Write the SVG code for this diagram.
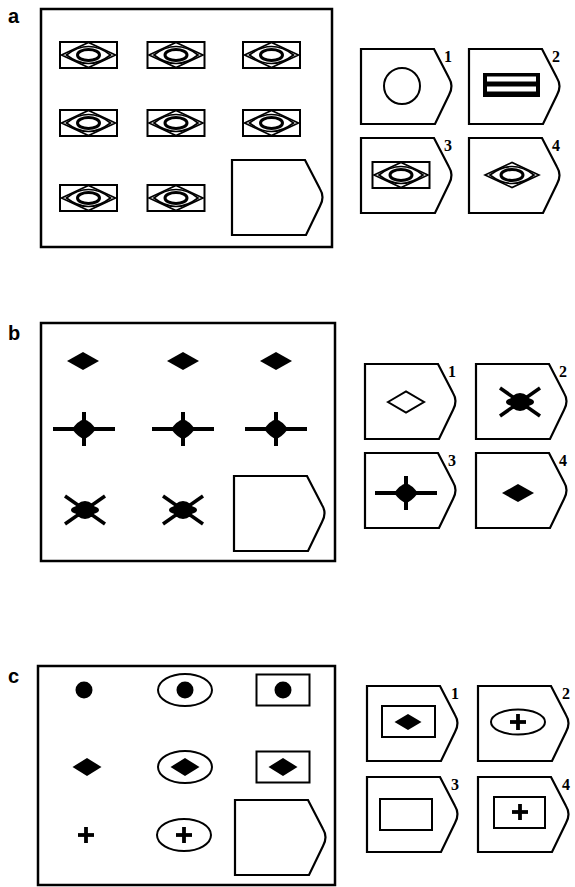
<svg xmlns="http://www.w3.org/2000/svg" xmlns:xlink="http://www.w3.org/1999/xlink" width="575" height="887" viewBox="0 0 575 887">
<style>
.panel{fill:none;stroke:#000;stroke-width:2.5}
.tag{fill:#fff;stroke:#000;stroke-width:2.2}
.ol{fill:none;stroke:#000;stroke-width:2}
.thin{fill:none;stroke:#000;stroke-width:1.6}
.blk{fill:#000;stroke:none}
.ln{stroke:#000;stroke-linecap:butt;fill:none}
.lab{font-family:"Liberation Sans",Arial,sans-serif;font-weight:bold;font-size:20px;fill:#000}
.num{font-family:"Liberation Serif","Times New Roman",serif;font-weight:bold;font-size:16px;fill:#000}
</style>
<defs>
<path id="tag" d="M0,0 H73 L88,29 Q93,37 88,46 L74,75 H0 Z"/>
<g id="eyeD">
<polygon class="thin" points="-27,0 0,-12.5 27,0 0,12.5"/>
<path class="thin" d="M-22,0 Q0,-17 22,0 Q0,17 -22,0 Z"/>
<ellipse class="ln" cx="0" cy="0" rx="11" ry="5.5" stroke-width="3"/>
</g>
<g id="eyeR">
<rect class="ol" x="-28.5" y="-13" width="57" height="26" stroke-width="2.3"/>
<use xlink:href="#eyeD"/>
</g>
<polygon id="dia" class="blk" points="-16,0 0,-9 16,0 0,9"/>
<g id="cross">
<line class="ln" x1="-31" y1="0" x2="31" y2="0" stroke-width="4"/>
<line class="ln" x1="0" y1="-17" x2="0" y2="17" stroke-width="4"/>
<path class="blk" d="M-12,0 Q-6,-8 0,-10 Q6,-8 12,0 Q6,8 0,10 Q-6,8 -12,0 Z"/>
</g>
<g id="xs">
<line class="ln" x1="-20" y1="-14" x2="20" y2="14" stroke-width="3.5"/>
<line class="ln" x1="-20" y1="14" x2="20" y2="-14" stroke-width="3.5"/>
<ellipse class="blk" cx="0" cy="0" rx="10" ry="9"/>
<ellipse class="blk" cx="0" cy="0" rx="14" ry="5"/>
</g>
<circle id="dot" class="blk" r="8.5"/>
<polygon id="dia2" class="blk" points="-14.5,0 0,-9 14.5,0 0,9"/>
<g id="plus">
<line class="ln" x1="-8" y1="0" x2="8" y2="0" stroke-width="3.8"/>
<line class="ln" x1="0" y1="-8" x2="0" y2="8" stroke-width="3.8"/>
</g>
<ellipse id="ell" class="ol" rx="27" ry="16" stroke-width="2.5"/>
<rect id="box" class="ol" x="-26.5" y="-15.5" width="53" height="31"/>
</defs>

<!-- Panel a -->
<g id="panel-a">
<text class="lab" x="8" y="23">a</text>
<rect class="panel" x="41" y="9" width="291" height="238"/>
<g id="a-r1c1"><use xlink:href="#eyeR" x="88.5" y="55"/></g>
<g id="a-r1c2"><use xlink:href="#eyeR" x="176" y="55"/></g>
<g id="a-r1c3"><use xlink:href="#eyeR" x="271.5" y="55"/></g>
<g id="a-r2c1"><use xlink:href="#eyeR" x="88.5" y="123"/></g>
<g id="a-r2c2"><use xlink:href="#eyeR" x="176" y="123"/></g>
<g id="a-r2c3"><use xlink:href="#eyeR" x="271.5" y="123"/></g>
<g id="a-r3c1"><use xlink:href="#eyeR" x="88.5" y="198"/></g>
<g id="a-r3c2"><use xlink:href="#eyeR" x="176" y="198"/></g>
<g id="a-slot"><use xlink:href="#tag" class="tag" x="232" y="160"/></g>
</g>
<g id="a-opt1">
<use xlink:href="#tag" class="tag" x="361" y="49"/>
<circle class="ol" cx="402" cy="86" r="18"/>
<text class="num" x="444" y="62">1</text>
</g>
<g id="a-opt2">
<use xlink:href="#tag" class="tag" x="469" y="49"/>
<rect class="blk" x="483" y="73" width="57" height="24"/>
<rect x="487" y="76.5" width="49" height="5" fill="#fff"/>
<rect x="487" y="86.5" width="49" height="5" fill="#fff"/>
<text class="num" x="552" y="62">2</text>
</g>
<g id="a-opt3">
<use xlink:href="#tag" class="tag" x="361" y="138"/>
<use xlink:href="#eyeR" x="401" y="175"/>
<text class="num" x="444" y="151">3</text>
</g>
<g id="a-opt4">
<use xlink:href="#tag" class="tag" x="469" y="138"/>
<use xlink:href="#eyeD" x="512" y="175"/>
<text class="num" x="552" y="151">4</text>
</g>

<!-- Panel b -->
<g id="panel-b">
<text class="lab" x="8" y="340">b</text>
<rect class="panel" x="41" y="323" width="294" height="238"/>
<g id="b-r1c1"><use xlink:href="#dia" x="83" y="361"/></g>
<g id="b-r1c2"><use xlink:href="#dia" x="183" y="361"/></g>
<g id="b-r1c3"><use xlink:href="#dia" x="276" y="361"/></g>
<g id="b-r2c1"><use xlink:href="#cross" x="84" y="429"/></g>
<g id="b-r2c2"><use xlink:href="#cross" x="183" y="429"/></g>
<g id="b-r2c3"><use xlink:href="#cross" x="276" y="429"/></g>
<g id="b-r3c1"><use xlink:href="#xs" x="85" y="510"/></g>
<g id="b-r3c2"><use xlink:href="#xs" x="183" y="510"/></g>
<g id="b-slot"><use xlink:href="#tag" class="tag" x="234" y="476"/></g>
</g>
<g id="b-opt1">
<use xlink:href="#tag" class="tag" x="365" y="364"/>
<polygon class="ol" points="388,402 406,391.5 424,402 406,412.5"/>
<text class="num" x="448" y="377">1</text>
</g>
<g id="b-opt2">
<use xlink:href="#tag" class="tag" x="476" y="364"/>
<use xlink:href="#xs" x="520" y="402"/>
<text class="num" x="559" y="377">2</text>
</g>
<g id="b-opt3">
<use xlink:href="#tag" class="tag" x="365" y="453"/>
<use xlink:href="#cross" x="406" y="493"/>
<text class="num" x="448" y="466">3</text>
</g>
<g id="b-opt4">
<use xlink:href="#tag" class="tag" x="476" y="453"/>
<use xlink:href="#dia" x="518" y="493"/>
<text class="num" x="559" y="466">4</text>
</g>

<!-- Panel c -->
<g id="panel-c">
<text class="lab" x="8" y="683">c</text>
<rect class="panel" x="38" y="666" width="297" height="219"/>
<g id="c-r1c1"><use xlink:href="#dot" x="84" y="690"/></g>
<g id="c-r1c2"><use xlink:href="#ell" x="185" y="690"/><use xlink:href="#dot" x="185" y="690"/></g>
<g id="c-r1c3"><use xlink:href="#box" x="283" y="690"/><use xlink:href="#dot" x="283" y="690"/></g>
<g id="c-r2c1"><use xlink:href="#dia2" x="87" y="767"/></g>
<g id="c-r2c2"><use xlink:href="#ell" x="185" y="767"/><use xlink:href="#dia2" x="185" y="767"/></g>
<g id="c-r2c3"><use xlink:href="#box" x="283" y="767"/><use xlink:href="#dia2" x="283" y="767"/></g>
<g id="c-r3c1"><use xlink:href="#plus" x="86" y="835"/></g>
<g id="c-r3c2"><use xlink:href="#ell" x="184" y="835"/><use xlink:href="#plus" x="184" y="835"/></g>
<g id="c-slot"><use xlink:href="#tag" class="tag" x="235" y="800"/></g>
</g>
<g id="c-opt1">
<use xlink:href="#tag" class="tag" x="367" y="686"/>
<rect class="ol" x="382" y="706" width="53" height="31"/>
<polygon class="blk" points="394.5,722 408,714 421.5,722 408,730"/>
<text class="num" x="451" y="699">1</text>
</g>
<g id="c-opt2">
<use xlink:href="#tag" class="tag" x="478" y="686"/>
<ellipse class="ol" cx="518" cy="722" rx="27" ry="12.5"/>
<use xlink:href="#plus" x="518" y="722"/>
<text class="num" x="562" y="699">2</text>
</g>
<g id="c-opt3">
<use xlink:href="#tag" class="tag" x="367" y="777"/>
<rect class="ol" x="380" y="799" width="52" height="31"/>
<text class="num" x="451" y="790">3</text>
</g>
<g id="c-opt4">
<use xlink:href="#tag" class="tag" x="478" y="777"/>
<rect class="ol" x="494" y="797" width="51" height="31"/>
<use xlink:href="#plus" x="520" y="812"/>
<text class="num" x="562" y="790">4</text>
</g>
<g id="connectors"/>
</svg>
